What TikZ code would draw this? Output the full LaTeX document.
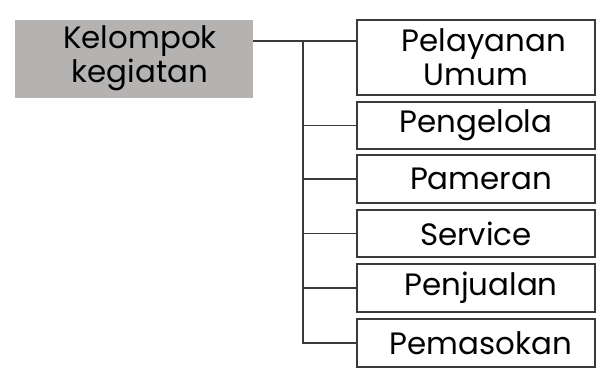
\documentclass[tikz,border=0pt]{standalone}
\usepackage{fontspec}
\setmainfont{Poppins}
\usepackage{tikz}
\usetikzlibrary{calc}
\definecolor{abu}{HTML}{B5B3B2}
\definecolor{garis}{HTML}{3A3A3A}
\tikzstyle{induk}=[fill=abu, draw=white, inner sep=0pt, align=center, font=\fontsize{31}{34}\selectfont]
\tikzstyle{kotak}=[draw=garis, line width=1.1bp, fill=white, inner sep=0pt, minimum width=238bp, align=center, font=\fontsize{31}{34}\selectfont]

\begin{document}
\begin{tikzpicture}[x=1bp,y=-1bp]
            \useasboundingbox (0,0) rectangle (605,372);
            % Kotak induk
            \node[induk, minimum width=239bp, minimum height=79bp] (kel) at (133.5,58.5) {};
            \node[align=center, font=\fontsize{31}{34}\selectfont] (keltxt) at (140,58.5) {Kelompok\\kegiatan};
            % Kotak kegiatan
            \node[kotak, minimum height=75bp]  (pel) at (476,57.5) {\hspace{16bp}Pelayanan\\Umum};
            \node[kotak, minimum height=47bp]  (pgl) at (476,125.5) {Pengelola};
            \node[kotak, minimum height=48bp]  (pam) at (476,179) {\hspace{10bp}Pameran};
            \node[kotak, minimum height=47bp]  (ser) at (476,233.5) {Service};
            \node[kotak, minimum height=48bp]  (pjl) at (476,288) {\hspace{10bp}Penjualan};
            \node[kotak, minimum height=48bp]  (pms) at (476,343) {\hspace{10bp}Pemasokan};
            % Garis
            \coordinate (cabang) at (303,41);
            \draw[garis, line width=1.3bp] (cabang -| kel.east) -- (cabang -| pel.west);
            \draw[garis, line width=1.3bp] (cabang) |- (pms.west);
            \draw[garis, line width=1.3bp] (cabang |- pgl.west) -- (pgl.west);
            \draw[garis, line width=1.3bp] (cabang |- pam.west) -- (pam.west);
            \draw[garis, line width=1.3bp] (cabang |- ser.west) -- (ser.west);
            \draw[garis, line width=1.3bp] (cabang |- pjl.west) -- (pjl.west);
        \end{tikzpicture}
\end{document}
